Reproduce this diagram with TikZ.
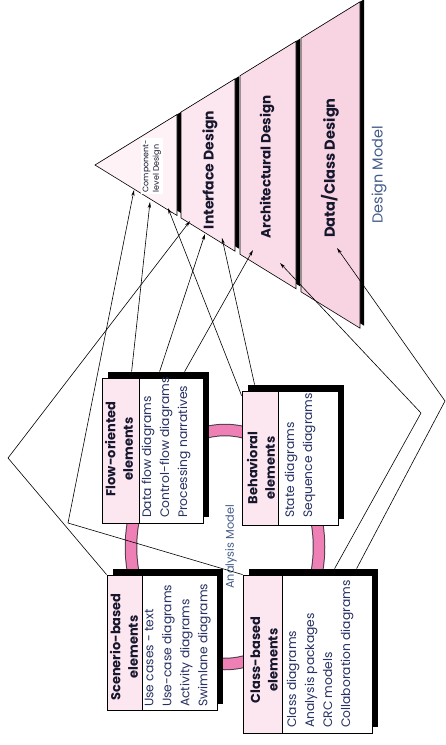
\documentclass[tikz,border=0pt]{standalone}
\usepackage{fontspec}
\setmainfont{Poppins}
\definecolor{inkblue}{RGB}{38,48,98}
\definecolor{titleink}{RGB}{22,22,45}
\definecolor{slateblue}{RGB}{68,92,138}
\definecolor{headpink}{RGB}{252,230,240}
\definecolor{ringpink}{RGB}{238,128,182}
\definecolor{ringedge}{RGB}{70,60,70}
\definecolor{layerA}{RGB}{254,242,247}
\definecolor{layerB}{RGB}{252,230,239}
\definecolor{layerC}{RGB}{250,220,232}
\definecolor{layerD}{RGB}{248,212,226}
\usetikzlibrary{calc, arrows.meta, shadows}

% one slice of the design pyramid: left x, right x, fill
\newcommand{\dmlayer}[3]{%
  \fill[black, xshift=4pt, yshift=2.5pt] (#1,{165-0.6157*(#1-95)}) -- (#2,{165-0.6157*(#2-95)})
    -- (#2,{165+0.6157*(#2-95)}) -- (#1,{165+0.6157*(#1-95)}) -- cycle;
  \draw[fill=#3, line width=0.6pt] (#1,{165-0.6157*(#1-95)}) -- (#2,{165-0.6157*(#2-95)})
    -- (#2,{165+0.6157*(#2-95)}) -- (#1,{165+0.6157*(#1-95)}) -- cycle;
}

\begin{document}
\begin{tikzpicture}[x=1pt, y=-1pt,
    boxhead/.style={draw=black, line width=0.8pt, fill=headpink, inner sep=0pt,
      general shadow={fill=black, shadow xshift=6pt, shadow yshift=6pt}},
    boxbody/.style={draw=black, line width=0.8pt, fill=white, inner sep=0pt,
      general shadow={fill=black, shadow xshift=6pt, shadow yshift=6pt}},
    ttl/.style={rotate=90, align=center, inner sep=0pt,
      font=\fontsize{13}{17.5}\selectfont\bfseries, text=titleink},
    items/.style={rotate=90, align=left, anchor=north west, inner sep=0pt,
      font=\fontsize{12.3}{18}\selectfont, text=inkblue},
    layername/.style={rotate=90, font=\fontsize{14}{16}\selectfont\bfseries, text=titleink},
    modelname/.style={rotate=90, text=slateblue},
    feed/.style={draw=black, line width=0.6pt, -{Stealth[length=6pt, width=3.2pt]}},
  ]
    \useasboundingbox (0,0) rectangle (446,745);

    % design model
    \dmlayer{95}{177}{layerA}
    \dmlayer{181}{235}{layerB}
    \dmlayer{240}{296}{layerC}
    \dmlayer{301}{360}{layerD}
    \node[rotate=90, fill=white, inner sep=2pt, align=left,
      font=\fontsize{8}{10.5}\selectfont, text=titleink] (cmp) at (152,166) {Component-\\level Design};
    \node[layername] (ifc) at (210,170) {Interface Design};
    \node[layername, font=\fontsize{13.5}{16}\selectfont\bfseries] (arc) at (267,167) {Architectural Design};
    \node[layername, font=\fontsize{14.6}{17}\selectfont\bfseries] (dat) at (330,168) {Data/Class Design};
    \node[modelname, font=\fontsize{14.5}{16}\selectfont] (dmlabel) at (379,175) {Design Model};

    % analysis model
    \draw[line width=12.5pt, ringedge] (225,547) ellipse [x radius=94pt, y radius=117pt];
    \draw[line width=10.5pt, ringpink] (225,547) ellipse [x radius=94pt, y radius=117pt];
    \node[modelname, font=\fontsize{11.3}{13}\selectfont] (amlabel) at (231,547) {Analysis Model};

    \node[boxhead, minimum width=37pt, minimum height=145pt] (flowhead) at (120.5,450.5) {};
    \node[boxbody, minimum width=64pt, minimum height=145pt] (flowbody) at (171,450.5) {};
    \node[boxhead, minimum width=36pt, minimum height=134pt] (behhead) at (260,458) {};
    \node[boxbody, minimum width=60pt, minimum height=134pt] (behbody) at (308,458) {};
    \node[boxhead, minimum width=35pt, minimum height=135pt] (scnhead) at (124.5,642.5) {};
    \node[boxbody, minimum width=75pt, minimum height=135pt] (scnbody) at (179.5,642.5) {};
    \node[boxhead, minimum width=39pt, minimum height=158pt] (clshead) at (262.5,654) {};
    \node[boxbody, minimum width=90pt, minimum height=158pt] (clsbody) at (327,654) {};

    \node[ttl] (flowttl) at (119,449) {Flow-oriented\\elements};
    \node[ttl] (behttl) at (261,468) {Behavioral\\elements};
    \node[ttl] (scnttl) at (124,647) {Scenerio-based\\elements};
    \node[ttl] (clsttl) at (264,660) {Class-based\\elements};
    \node[items] (flowtxt) at (141.5,518) {Data flow diagrams\\Control-flow diagrams\\Processing narratives};
    \node[items] (behtxt) at (284.5,518) {State diagrams\\Sequence diagrams};
    \node[items] (scntxt) at (144.5,707) {Use cases - text\\Use-case diagrams\\Activity diagrams\\Swimlane diagrams};
    \node[items] (clstxt) at (286.5,728) {Class diagrams\\Analysis packages\\CRC models\\Collaboration diagrams};

    % arrow ends on the pyramid and bends
    \coordinate (cmpA) at (134,190);
    \coordinate (cmpB) at (150,202);
    \coordinate (cmpC) at (168,208);
    \coordinate (ifcD) at (190,221);
    \coordinate (ifcE) at (205,234);
    \coordinate (ifcF) at (222,238);
    \coordinate (arcG) at (253,250);
    \coordinate (arcH) at (280,263);
    \coordinate (datI) at (337,248);
    \coordinate (bendA) at (68,523);
    \coordinate (bendD) at (8,458);
    \coordinate (bendH) at (421,413);
    \coordinate (bendI) at (445,401);

    \draw[feed] (clshead.north west) -- (bendA) -- (cmpA);
    \draw[feed] ($(flowhead.north west)+(30,-6)$) -- (cmpB);
    \draw[feed] ($(behhead.north west)+(0,5)$) -- (cmpC);
    \draw[feed] (scnhead.north west) -- (bendD) -- (ifcD);
    \draw[feed] ($(flowhead.north west)+(58,-6)$) -- (ifcE);
    \draw[feed] ($(behhead.north west)+(13,-6)$) -- (ifcF);
    \draw[feed] ($(flowhead.north west)+(83,-6)$) -- (arcG);
    \draw[feed] ($(clshead.north west)+(92,-6)$) -- (bendH) -- (arcH);
    \draw[feed] ($(clshead.north west)+(114,-6)$) -- (bendI) -- (datI);
  \end{tikzpicture}
\end{document}
